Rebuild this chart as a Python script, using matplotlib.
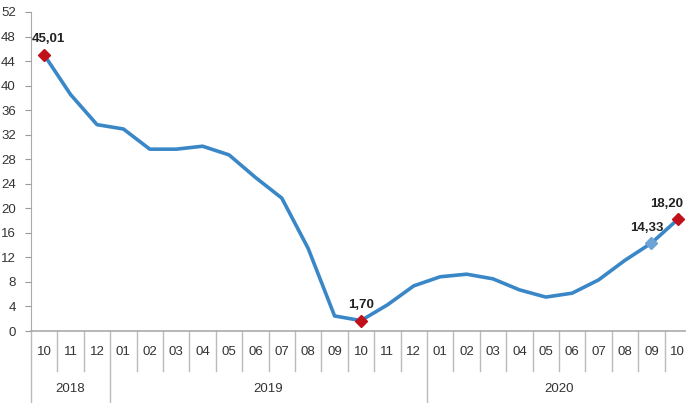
import numpy as np
import matplotlib.pyplot as plt
from matplotlib import transforms

plt.rcParams['font.family'] = ['Liberation Sans Narrow', 'Liberation Sans', 'DejaVu Sans']

# veri: yillik degisim (%)
aylar = ["10", "11", "12", "01", "02", "03", "04", "05", "06", "07", "08", "09",
         "10", "11", "12", "01", "02", "03", "04", "05", "06", "07", "08", "09", "10"]
yillar = ["2018", "2019", "2020"]
yil_baslangic = [0, 3, 15]       # her yilin ilk ayinin indeksi
degerler = [45.01, 38.54, 33.64, 32.93, 29.64, 29.64, 30.12, 28.71, 25.04, 21.66,
            13.45, 2.45, 1.70, 4.26, 7.36, 8.84, 9.26, 8.50, 6.71, 5.53, 6.17,
            8.33, 11.53, 14.33, 18.20]
etiketli = [0, 12, 23, 24]       # etiket yazilacak noktalar
kaydirma = {0: 3, 12: 0, 23: -3, 24: -8}   # etiketlerin yatay kaymasi (pt)
kirmizi = [0, 12, 24]

fig = plt.figure(figsize=(6.86, 4.03), dpi=100)
ax = fig.add_axes([31/686, 72/403, 660/686, 319/403])

x = np.arange(len(degerler))
ax.plot(x, degerler, color="#3A87C8", lw=2.6, zorder=3)
for i in etiketli:
    renk = "#C0101A" if i in kirmizi else "#6BA3D6"
    ax.plot(x[i], degerler[i], marker="D", ms=6, color=renk, zorder=4)
    ax.annotate(f"{degerler[i]:.2f}".replace(".", ","), (x[i], degerler[i]),
                xytext=(kaydirma[i], 9), textcoords="offset points", ha="center",
                fontsize=9.5, fontweight="bold", color="#222222")

ax.set_xlim(-0.5, len(degerler) - 0.5)
ax.set_ylim(0, 52)
ax.set_yticks(np.arange(0, 53, 4))
ax.tick_params(axis="y", labelsize=9.5, length=4, color="#999999", labelcolor="#333333", pad=7)
ax.set_xticks([])
for s in ["top", "right"]:
    ax.spines[s].set_visible(False)
ax.spines["left"].set_color("#aaaaaa")
ax.spines["bottom"].set_color("#aaaaaa")
ax.spines["bottom"].set_linewidth(1.2)

# kategori ekseni: aylar ve yillar
tr = transforms.blended_transform_factory(ax.transData, ax.transAxes)
px = 1 / 319
for i, a in enumerate(aylar):
    ax.text(i, -21 * px, a, transform=tr, ha="center", va="center",
            fontsize=9.5, color="#333333")
for i in range(len(aylar) + 1):
    alt = -72 * px if (i in yil_baslangic or i == 0) else -40 * px
    ax.plot([i - 0.5, i - 0.5], [0, alt], transform=tr, color="#bbbbbb",
            lw=1, clip_on=False)
bitis = yil_baslangic[1:] + [len(aylar)]
for y, b, e in zip(yillar, yil_baslangic, bitis):
    ax.text((b + e - 1) / 2, -58 * px, y, transform=tr, ha="center", va="center",
            fontsize=9.5, color="#333333")

fig.savefig("out.png", dpi=100)
